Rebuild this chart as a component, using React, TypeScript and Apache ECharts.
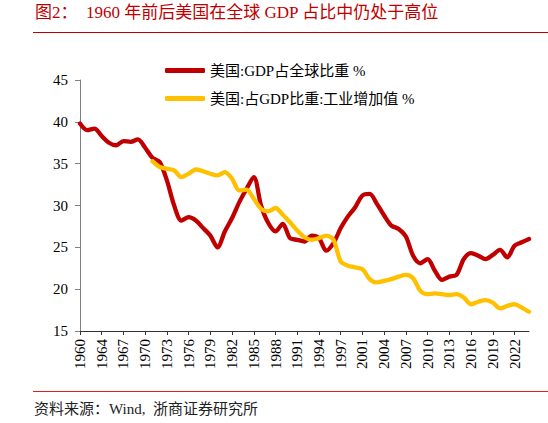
import React, { useEffect, useRef } from "react";
import * as echarts from "echarts";

const years = [
  "1960", "1962", "1963", "1964", "1965", "1966", "1967", "1968", "1969", "1970",
  "1971", "1972", "1973", "1974", "1975", "1976", "1977", "1978", "1979", "1980",
  "1981", "1982", "1983", "1984", "1985", "1986", "1987", "1988", "1989", "1990",
  "1991", "1992", "1993", "1994", "1995", "1996", "1997", "1999", "2000", "2001",
  "2002", "2003", "2004", "2005", "2006", "2007", "2008", "2009", "2010", "2011",
  "2012", "2013", "2014", "2015", "2016", "2017", "2018", "2019", "2020", "2021",
  "2022", "2023", "2024",
];

const gdpShare = [
  39.8, 39.0, 39.2, 38.3, 37.5, 37.2, 37.7, 37.6, 37.9, 36.9,
  35.7, 35.2, 33.0, 30.0, 28.2, 28.6, 28.2, 27.3, 26.4, 25.0,
  26.9, 28.5, 30.4, 32.0, 33.4, 30.0, 27.9, 26.9, 27.8, 26.1,
  25.9, 25.7, 26.4, 26.1, 24.6, 25.5, 27.3, 28.7, 29.8, 31.2,
  31.4, 30.2, 28.8, 27.6, 27.2, 26.3, 24.0, 23.1, 23.6, 22.2,
  21.1, 21.5, 21.7, 23.6, 24.3, 24.0, 23.6, 24.1, 24.7, 23.8,
  25.2, 25.6, 26.0,
];

const industryShare = [
  null, null, null, null, null, null, null, null, null, null,
  35.3, 34.6, 34.4, 34.2, 33.4, 33.8, 34.3, 34.1, 33.8, 33.6,
  34.0, 33.2, 31.8, 31.9, 30.8, 29.6, 29.3, 29.7, 28.9, 28.0,
  27.0, 26.2, 25.9, 26.1, 26.4, 25.9, 23.3, 22.8, 22.6, 22.4,
  21.2, 20.8, 21.0, 21.2, 21.5, 21.7, 21.3, 19.8, 19.4, 19.5,
  19.4, 19.3, 19.4, 19.0, 18.2, 18.5, 18.7, 18.4, 17.7, 18.0,
  18.2, 17.8, 17.3,
];

const seriesNames = ["美国:GDP占全球比重 %", "美国:占GDP比重:工业增加值 %"];
const titleText = "图2：  1960 年前后美国在全球 GDP 占比中仍处于高位";
const sourceText = "资料来源：Wind,  浙商证券研究所";

const FONT = "'Liberation Serif', 'Noto Sans CJK SC', serif";

export default function App() {
  const ref = useRef<HTMLDivElement>(null);
  useEffect(() => {
    document.body.style.margin = "0";
    const chart = echarts.init(ref.current!, null, { renderer: "svg" });
    chart.setOption({
      animation: false,
      textStyle: { fontFamily: FONT },
      graphic: [
        {
          type: "text",
          left: 35,
          top: 4,
          style: { text: titleText, fill: "#C00000", font: `17px ${FONT}` },
        },
        {
          type: "line",
          shape: { x1: 33, y1: 32.5, x2: 548, y2: 32.5 },
          style: { stroke: "#C00000", lineWidth: 1 },
        },
        {
          type: "line",
          shape: { x1: 33, y1: 391.5, x2: 548, y2: 391.5 },
          style: { stroke: "#E02020", lineWidth: 1 },
        },
        {
          type: "text",
          left: 34,
          top: 401,
          style: { text: sourceText, fill: "#222", font: `15px ${FONT}` },
        },
      ],
      legend: {
        orient: "vertical",
        left: 160,
        top: 58,
        itemWidth: 40,
        itemHeight: 5,
        itemGap: 13,
        icon: "roundRect",
        textStyle: { fontSize: 15, color: "#000", fontFamily: FONT },
        data: seriesNames,
      },
      grid: { left: 80, right: 19, top: 80, bottom: 92 },
      xAxis: {
        type: "category",
        data: years,
        boundaryGap: false,
        axisLine: { lineStyle: { color: "#333", width: 1 } },
        axisTick: { interval: 2, length: 4, lineStyle: { color: "#333" } },
        axisLabel: {
          interval: 2,
          rotate: 90,
          fontSize: 15,
          color: "#000",
          fontFamily: FONT,
          margin: 8,
        },
      },
      yAxis: {
        type: "value",
        min: 15,
        max: 45,
        interval: 5,
        splitLine: { show: false },
        axisLine: { show: true, lineStyle: { color: "#808080" } },
        axisTick: { show: true, length: 5, lineStyle: { color: "#808080" } },
        axisLabel: { fontSize: 15, color: "#000", fontFamily: FONT, margin: 12 },
      },
      series: [
        {
          name: seriesNames[0],
          type: "line",
          data: gdpShare,
          smooth: 0.3,
          symbol: "none",
          lineStyle: { color: "#C00000", width: 4.3, cap: "round", join: "round" },
          itemStyle: { color: "#C00000" },
          z: 2,
        },
        {
          name: seriesNames[1],
          type: "line",
          data: industryShare,
          smooth: 0.3,
          symbol: "none",
          lineStyle: { color: "#FFC000", width: 4.3, cap: "round", join: "round" },
          itemStyle: { color: "#FFC000" },
          z: 3,
        },
      ],
    });
    return () => chart.dispose();
  }, []);
  return <div ref={ref} style={{ width: 548, height: 423 }} />;
}
